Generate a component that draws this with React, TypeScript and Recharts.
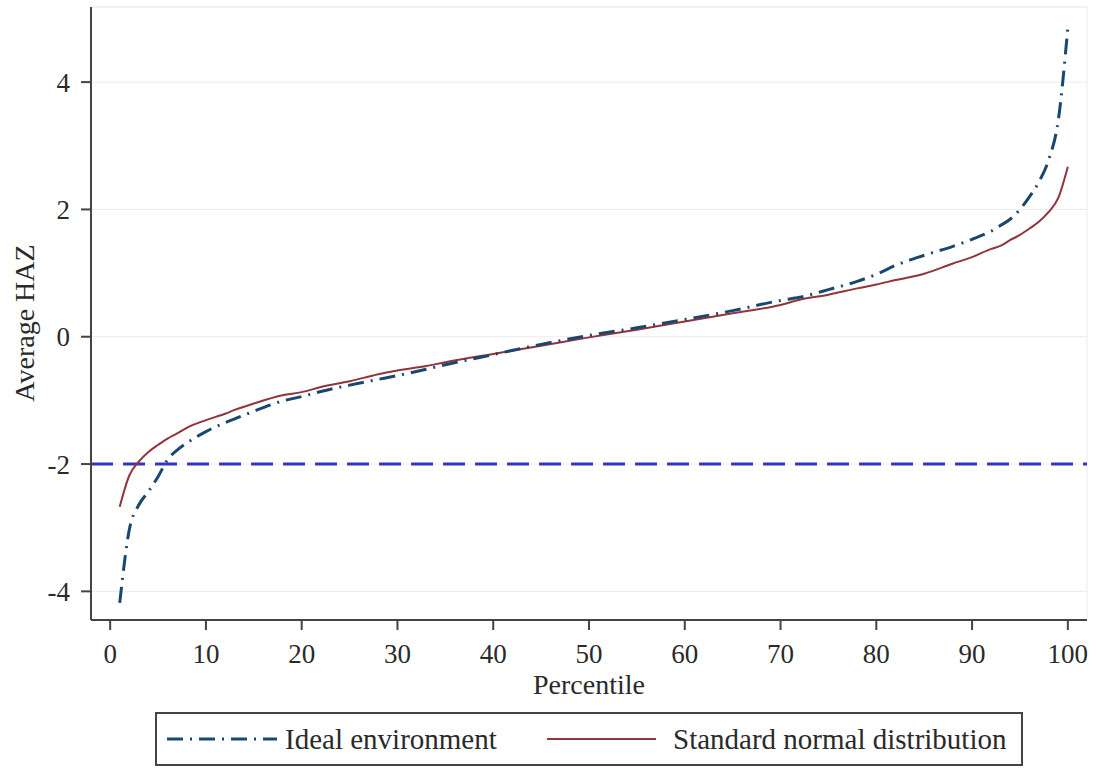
import React from 'react';
import {
  LineChart,
  Line,
  XAxis,
  YAxis,
  CartesianGrid,
  ReferenceLine,
  ReferenceArea,
  Legend,
} from 'recharts';

// ---------- data ----------
const percentiles = [
  1, 2, 3, 4, 5, 6, 7, 8, 10, 12, 13, 15, 18, 20, 22, 25, 28, 30, 33, 35, 40, 45, 50,
  55, 60, 65, 70, 72, 75, 78, 80, 82, 85, 88, 90, 92, 93, 94, 95, 96, 97, 98, 99, 100,
];

const idealEnvironment = [
  -4.18, -3.03, -2.64, -2.43, -2.2, -1.93, -1.78, -1.67, -1.49, -1.35, -1.29, -1.17, -1.01,
  -0.94, -0.86, -0.76, -0.67, -0.61, -0.51, -0.44, -0.28, -0.12, 0.02, 0.14, 0.27, 0.41,
  0.57, 0.62, 0.74, 0.87, 0.98, 1.12, 1.28, 1.42, 1.53, 1.66, 1.75, 1.85, 2.0, 2.2, 2.44,
  2.78, 3.4, 4.86,
];

const standardNormal = [
  -2.67, -2.18, -1.96, -1.81, -1.7, -1.6, -1.52, -1.43, -1.31, -1.21, -1.15, -1.05, -0.92,
  -0.87, -0.79, -0.7, -0.59, -0.53, -0.46, -0.4, -0.27, -0.14, -0.01, 0.11, 0.24, 0.37,
  0.5, 0.58, 0.66, 0.76, 0.82, 0.89, 0.99, 1.15, 1.25, 1.38, 1.43, 1.52, 1.6, 1.7, 1.81,
  1.96, 2.18, 2.67,
];

const xTicks = [0, 10, 20, 30, 40, 50, 60, 70, 80, 90, 100];
const yTicks = [-4, -2, 0, 2, 4];
const stuntingThreshold = -2;

const seriesNames = ['Ideal environment', 'Standard normal distribution'];
const xTitle = 'Percentile';
const yTitle = 'Average HAZ';

// ---------- styling ----------
const SERIF = '"Liberation Serif", "Times New Roman", serif';
const NAVY = '#1a476f';
const MAROON = '#90353b';
const THRESH = '#3434c0';
const AXIS = '#444';
const TEXT = '#2a2a2a';

const data = percentiles.map((p, i) => ({
  p,
  ideal: idealEnvironment[i],
  normal: standardNormal[i],
}));

const LegendBox = () => (
  <div
    style={{
      width: 868,
      height: 54,
      boxSizing: 'border-box',
      border: `2px solid ${AXIS}`,
      background: '#fff',
      position: 'relative',
    }}
  >
    <svg width={864} height={50} style={{ position: 'absolute', left: 0, top: 0 }}>
      <line x1={10} x2={120} y1={25} y2={25} stroke={NAVY} strokeWidth={3} strokeDasharray="16 7 2 7" />
      <text x={128} y={25} dominantBaseline="central" fontFamily={SERIF} fontSize={29} fill={TEXT}>
        {seriesNames[0]}
      </text>
      <line x1={390} x2={499} y1={25} y2={25} stroke={MAROON} strokeWidth={2} />
      <text x={516} y={25} dominantBaseline="central" fontFamily={SERIF} fontSize={29} fill={TEXT}>
        {seriesNames[1]}
      </text>
    </svg>
  </div>
);

export default function App() {
  return (
    <div style={{ position: 'absolute', left: 0, top: 0, width: 1097, height: 768, background: '#fff' }}>
      <LineChart
        width={1097}
        height={768}
        data={data}
        margin={{ top: 7, right: 10, bottom: 0, left: 0 }}
        style={{ fontFamily: SERIF }}
      >
        <CartesianGrid horizontal vertical={false} stroke="#ececec" strokeWidth={1} />
        <ReferenceArea
          x1={-2}
          x2={102}
          y1={-4.45}
          y2={5.18}
          fill="none"
          stroke="#ececec"
          strokeWidth={1}
          ifOverflow="extendDomain"
        />
        <XAxis
          dataKey="p"
          type="number"
          domain={[-2, 102]}
          ticks={xTicks}
          interval={0}
          height={148}
          tickSize={10}
          tickMargin={14}
          axisLine={{ stroke: AXIS, strokeWidth: 2 }}
          tickLine={{ stroke: AXIS, strokeWidth: 2 }}
          tick={{ fontSize: 27, fill: TEXT, fontFamily: SERIF }}
          label={() => (
            <text x={589} y={694} textAnchor="middle" fontFamily={SERIF} fontSize={28} fill={TEXT}>
              {xTitle}
            </text>
          )}
        />
        <YAxis
          type="number"
          domain={[-4.45, 5.18]}
          ticks={yTicks}
          interval={0}
          width={91}
          tickSize={10}
          tickMargin={11}
          axisLine={{ stroke: AXIS, strokeWidth: 2 }}
          tickLine={{ stroke: AXIS, strokeWidth: 2 }}
          tick={{ fontSize: 27, fill: TEXT, fontFamily: SERIF }}
          label={() => (
            <text
              x={24}
              y={323}
              transform="rotate(-90, 24, 323)"
              textAnchor="middle"
              dominantBaseline="central"
              fontFamily={SERIF}
              fontSize={28}
              fill={TEXT}
            >
              {yTitle}
            </text>
          )}
        />
        <ReferenceLine
          y={stuntingThreshold}
          stroke={THRESH}
          strokeWidth={3}
          strokeDasharray="22 10"
        />
        <Line
          type="monotone"
          dataKey="normal"
          name={seriesNames[1]}
          stroke={MAROON}
          strokeWidth={2}
          dot={false}
          isAnimationActive={false}
        />
        <Line
          type="monotone"
          dataKey="ideal"
          name={seriesNames[0]}
          stroke={NAVY}
          strokeWidth={3}
          strokeDasharray="16 7 2 7"
          dot={false}
          isAnimationActive={false}
        />
        <Legend
          verticalAlign="middle"
          align="center"
          layout="horizontal"
          wrapperStyle={{ position: 'absolute', left: 155, top: 712, width: 868, height: 54 }}
          content={() => <LegendBox />}
        />
      </LineChart>
    </div>
  );
}
